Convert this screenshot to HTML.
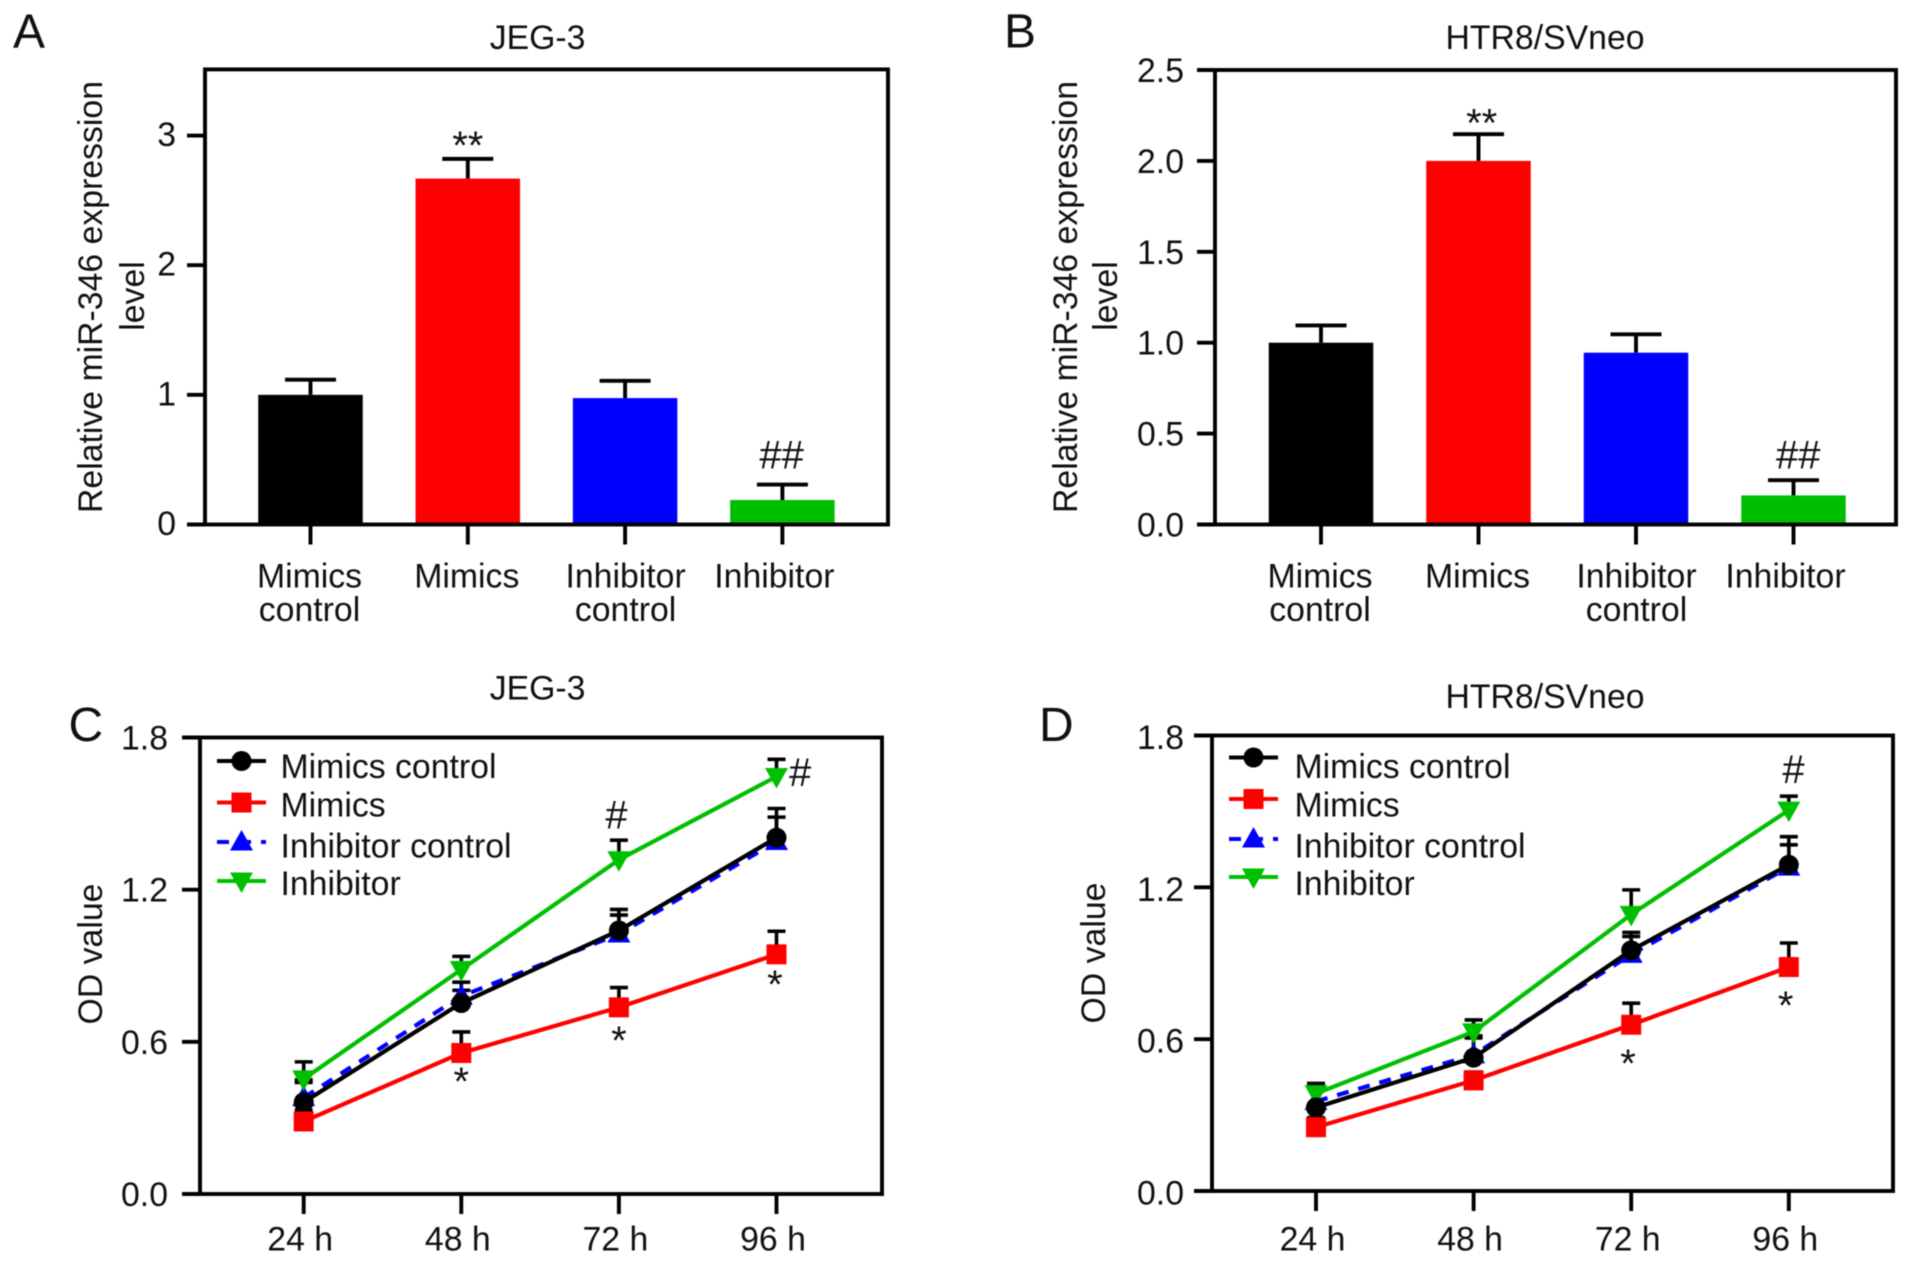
<!DOCTYPE html>
<html lang="en">
<head>
<meta charset="utf-8">
<title>miR-346 expression and OD value charts</title>
<style>
html,body{margin:0;padding:0;background:#fff;}
body{width:1913px;height:1264px;overflow:hidden;}
svg{display:block;filter:blur(0.45px);}
text{font-family:"Liberation Sans",Arial,sans-serif;fill:#111;font-size:33.8px;}
.panel-letter{font-size:48px;}
</style>
</head>
<body>
<svg id="figure" width="1913" height="1264" viewBox="0 0 1913 1264" xmlns="http://www.w3.org/2000/svg">
  <text class="panel-letter" x="13" y="47.5">A</text>
  <text class="panel-letter" x="1004" y="47.5">B</text>
  <text class="panel-letter" x="68.5" y="741">C</text>
  <text class="panel-letter" x="1039" y="741">D</text>

  <text x="537.6" y="49" text-anchor="middle">JEG-3</text>
  <text x="1545" y="49" text-anchor="middle">HTR8/SVneo</text>
  <text x="537.6" y="699.5" text-anchor="middle">JEG-3</text>
  <text x="1545" y="708" text-anchor="middle">HTR8/SVneo</text>

  <text text-anchor="middle" transform="translate(102 297) rotate(-90)">Relative miR-346 expression</text>
  <text text-anchor="middle" transform="translate(144 296) rotate(-90)">level</text>
  <text text-anchor="middle" transform="translate(1077 297) rotate(-90)">Relative miR-346 expression</text>
  <text text-anchor="middle" transform="translate(1117 296) rotate(-90)">level</text>
  <text text-anchor="middle" transform="translate(102 954) rotate(-90)">OD value</text>
  <text text-anchor="middle" transform="translate(1105 953) rotate(-90)">OD value</text>
</svg>

<script>
// ---------- Panel A data ----------
const barCategoriesA = ['Mimics control', 'Mimics', 'Inhibitor control', 'Inhibitor'];
const barValuesA = [1.0, 2.668, 0.975, 0.189];
const barErrorTopsA = [1.117, 2.82, 1.108, 0.308];
const yTicksA = [0, 1, 2, 3];
const yTickLabelsA = ['0', '1', '2', '3'];
const annotationTextA = ['**', '##'];
const annotationCatA = [1, 2.995];
const annotationValueA = [2.965, 0.528];

// ---------- Panel B data ----------
const barCategoriesB = ['Mimics control', 'Mimics', 'Inhibitor control', 'Inhibitor'];
const barValuesB = [1.0, 2.0, 0.945, 0.16];
const barErrorTopsB = [1.095, 2.147, 1.046, 0.244];
const yTicksB = [0, 0.5, 1, 1.5, 2, 2.5];
const yTickLabelsB = ['0.0', '0.5', '1.0', '1.5', '2.0', '2.5'];
const annotationTextB = ['**', '##'];
const annotationCatB = [1.02, 3.03];
const annotationValueB = [2.239, 0.376];

// ---------- Line chart shared ----------
const timeLabels = ['24 h', '48 h', '72 h', '96 h'];
const seriesNames = ['Mimics control', 'Mimics', 'Inhibitor control', 'Inhibitor'];
const odTicks = [0, 0.6, 1.2, 1.8];
const odTickLabels = ['0.0', '0.6', '1.2', '1.8'];

// ---------- Panel C data ----------
const cMimicsControl = [0.362, 0.753, 1.039, 1.405];
const cMimics = [0.286, 0.556, 0.736, 0.945];
const cInhibitorControl = [0.38, 0.78, 1.025, 1.39];
const cInhibitor = [0.454, 0.885, 1.318, 1.646];
const cMimicsControlErr = [0.45, 0.803, 1.122, 1.52];
const cMimicsErr = [0.33, 0.639, 0.814, 1.036];
const cInhibitorControlErr = [0.44, 0.835, 1.10, 1.486];
const cInhibitorErr = [0.521, 0.937, 1.395, 1.714];
const annotationTextC = ['*', '*', '#', '#', '*'];
const annotationCatC = [1, 2, 1.985, 3.15, 2.99];
const annotationValueC = [0.466, 0.627, 1.49, 1.658, 0.847];

// ---------- Panel D data ----------
const dMimicsControl = [0.33, 0.527, 0.951, 1.289];
const dMimics = [0.252, 0.437, 0.657, 0.885];
const dInhibitorControl = [0.354, 0.538, 0.935, 1.28];
const dInhibitor = [0.385, 0.629, 1.093, 1.505];
const dMimicsControlErr = [0.42, 0.605, 1.022, 1.40];
const dMimicsErr = [0.29, 0.47, 0.742, 0.98];
const dInhibitorControlErr = [0.415, 0.613, 1.006, 1.368];
const dInhibitorErr = [0.425, 0.676, 1.19, 1.56];
const annotationTextD = ['*', '*', '#'];
const annotationCatD = [1.98, 2.98, 3.03];
const annotationValueD = [0.526, 0.755, 1.662];

const NS = 'http://www.w3.org/2000/svg';
const root = document.getElementById('figure');
const seriesColors = ['#000000', '#ff0000', '#0000ff', '#00bf00'];
const barColors = ['#000000', '#ff0000', '#0000ff', '#00bf00'];
const STROKE = 3.9;

function make(tag, attrs, parent) {
  const el = document.createElementNS(NS, tag);
  for (const k in attrs) el.setAttribute(k, attrs[k]);
  (parent || root).appendChild(el);
  return el;
}
function slug(s) { return s.toLowerCase().replace(/[^a-z0-9]+/g, '-'); }

function makeAxes(cfg) {
  const y = v => cfg.bottom - (v / cfg.yMax) * (cfg.bottom - cfg.top);
  const x = i => cfg.x0 + i * cfg.step;
  return { x, y };
}

function drawFrame(cfg, id, ticks, tickLabels, ax) {
  const g = make('g', {});
  
  
  const frame = make('rect', { x: cfg.left, y: cfg.top, width: cfg.right - cfg.left, height: cfg.bottom - cfg.top, fill: 'none', stroke: '#000', 'stroke-width': STROKE }, g);
  
  
  ticks.forEach((t, i) => {
    const yy = ax.y(t);
    const tick = make('line', { x1: cfg.tickLeft, x2: cfg.left, y1: yy, y2: yy, stroke: '#000', 'stroke-width': STROKE }, g);
    
    
    const label = make('text', { x: cfg.labelRight, y: yy + cfg.labelDy, 'text-anchor': 'end' }, g);
    
    
    label.textContent = tickLabels[i];
  });
  return g;
}

function drawXTicks(cfg, id, count, ax, g) {
  for (let i = 0; i < count; i++) {
    const xx = ax.x(i);
    const tick = make('line', { x1: xx, x2: xx, y1: cfg.bottom, y2: cfg.bottom + 20, stroke: '#000', 'stroke-width': STROKE }, g);
    
    
  }
}

function drawAnnotations(id, ax, texts, cats, values) {
  texts.forEach((t, i) => {
    const isStar = t.indexOf('*') >= 0;
    const el = make('text', {
      x: ax.x(cats[i]),
      y: ax.y(values[i]) + (isStar ? 19 : 12.5),
      'text-anchor': 'middle',
      style: 'font-size:40px'
    });
    
    
    el.textContent = t;
  });
}

function drawBarChart(cfg, id, cats, values, errs, ticks, tickLabels, aText, aCat, aVal) {
  const ax = makeAxes(cfg);
  const barW = 104.5;
  const capW = 51;
  values.forEach((v, i) => {
    const cx = ax.x(i);
    const err = make('line', { x1: cx, x2: cx, y1: ax.y(v), y2: ax.y(errs[i]), stroke: '#000', 'stroke-width': STROKE });
    
    
    const cap = make('line', { x1: cx - capW / 2, x2: cx + capW / 2, y1: ax.y(errs[i]), y2: ax.y(errs[i]), stroke: '#000', 'stroke-width': STROKE });
    
    
    const bar = make('rect', { x: cx - barW / 2, y: ax.y(v), width: barW, height: ax.y(0) - ax.y(v), fill: barColors[i] });
    
    
  });
  const g = drawFrame(cfg, id, ticks, tickLabels, ax);
  drawXTicks(cfg, id, cats.length, ax, g);
  cats.forEach((c, i) => {
    const words = c.split(' ');
    const nudge = words.length === 1 && i === cats.length - 1 ? -8 : (c === 'Inhibitor control' ? 0.5 : -1);
    words.forEach((w, j) => {
      const t = make('text', { x: ax.x(i) + nudge, y: 587.5 + j * 33.5, 'text-anchor': 'middle' });
      
      
      t.textContent = w;
    });
  });
  drawAnnotations(id, ax, aText, aCat, aVal);
}

function drawMarker(parent, kind, x, y, color) {
  let el;
  if (kind === 0) {
    el = make('circle', { cx: x, cy: y, r: 10, fill: color }, parent);
  } else if (kind === 1) {
    el = make('rect', { x: x - 10, y: y - 10, width: 20, height: 20, fill: color }, parent);
  } else if (kind === 2) {
    el = make('polygon', { points: [x, y - 12, x + 11.5, y + 8.5, x - 11.5, y + 8.5].join(' '), fill: color }, parent);
  } else {
    el = make('polygon', { points: [x - 11.5, y - 8.5, x + 11.5, y - 8.5, x, y + 12].join(' '), fill: color }, parent);
  }
  return el;
}

function drawLineChart(cfg, id, means, errs, aText, aCat, aVal) {
  const ax = makeAxes(cfg);
  const g = drawFrame(cfg, id, odTicks, odTickLabels, ax);
  drawXTicks(cfg, id, timeLabels.length, ax, g);
  timeLabels.forEach((l, i) => {
    const t = make('text', { x: ax.x(i) - 3.5, y: 1250.5, 'text-anchor': 'middle' });
    
    
    t.textContent = l;
  });
  const capW = 18;
  means.forEach((vals, s) => {
    vals.forEach((v, i) => {
      const cx = ax.x(i);
      const err = make('line', { x1: cx, x2: cx, y1: ax.y(v), y2: ax.y(errs[s][i]), stroke: '#000', 'stroke-width': 3.6 });
      
      
      const cap = make('line', { x1: cx - capW / 2, x2: cx + capW / 2, y1: ax.y(errs[s][i]), y2: ax.y(errs[s][i]), stroke: '#000', 'stroke-width': 3.6 });
      
      
    });
  });
  const order = [2, 3, 0, 1];
  order.forEach(s => {
    const color = seriesColors[s];
    const group = make('g', {});
    
    
    const attrs = {
      points: means[s].map((v, i) => ax.x(i) + ',' + ax.y(v)).join(' '),
      fill: 'none', stroke: color, 'stroke-width': 4.2
    };
    if (s === 2) attrs['stroke-dasharray'] = '12 10';
    const line = make('polyline', attrs, group);
    
    
    means[s].forEach((v, i) => {
      const m = drawMarker(group, s, ax.x(i), ax.y(v), color);
      
      
    });
  });
  // legend
  const lg = make('g', {});
  
  
  seriesNames.forEach((n, s) => {
    const ly = cfg.legendLineYs[s];
    const entry = make('g', {}, lg);
    
    
    const attrs = { x1: cfg.legendX, x2: cfg.legendX + 49, y1: ly, y2: ly, stroke: seriesColors[s], 'stroke-width': 4 };
    if (s === 2) attrs['stroke-dasharray'] = '12 10';
    const sw = make('line', attrs, entry);
    
    
    const mk = drawMarker(entry, s, cfg.legendX + 24.5, ly, seriesColors[s]);
    
    
    const t = make('text', { x: cfg.legendTextX, y: cfg.legendTextYs[s] }, entry);
    
    
    t.textContent = n;
  });
  drawAnnotations(id, ax, aText, aCat, aVal);
}

drawBarChart(
  { left: 205, right: 888, top: 69.4, bottom: 524.5, yMax: 3.51, x0: 310.5, step: 157.3, tickLeft: 187, labelRight: 176, labelDy: 10.5 },
  'a', barCategoriesA, barValuesA, barErrorTopsA, yTicksA, yTickLabelsA, annotationTextA, annotationCatA, annotationValueA
);
drawBarChart(
  { left: 1215, right: 1896, top: 70, bottom: 524.5, yMax: 2.5, x0: 1321, step: 157.5, tickLeft: 1197, labelRight: 1184, labelDy: 12 },
  'b', barCategoriesB, barValuesB, barErrorTopsB, yTicksB, yTickLabelsB, annotationTextB, annotationCatB, annotationValueB
);
drawLineChart(
  { left: 200, right: 882, top: 737.5, bottom: 1194, yMax: 1.8, x0: 303.7, step: 157.6, tickLeft: 182, labelRight: 168, labelDy: 12,
    legendX: 217, legendLineYs: [761, 802.5, 842, 881], legendTextX: 280.5, legendTextYs: [778, 816.5, 857.5, 895] },
  'c',
  [cMimicsControl, cMimics, cInhibitorControl, cInhibitor],
  [cMimicsControlErr, cMimicsErr, cInhibitorControlErr, cInhibitorErr],
  annotationTextC, annotationCatC, annotationValueC
);
drawLineChart(
  { left: 1212, right: 1893, top: 735.5, bottom: 1191, yMax: 1.8, x0: 1316, step: 157.6, tickLeft: 1194, labelRight: 1184, labelDy: 13.5,
    legendX: 1229, legendLineYs: [757.5, 799, 839, 877], legendTextX: 1294.5, legendTextYs: [778, 816.5, 857.5, 895] },
  'd',
  [dMimicsControl, dMimics, dInhibitorControl, dInhibitor],
  [dMimicsControlErr, dMimicsErr, dInhibitorControlErr, dInhibitorErr],
  annotationTextD, annotationCatD, annotationValueD
);
</script>
</body>
</html>
